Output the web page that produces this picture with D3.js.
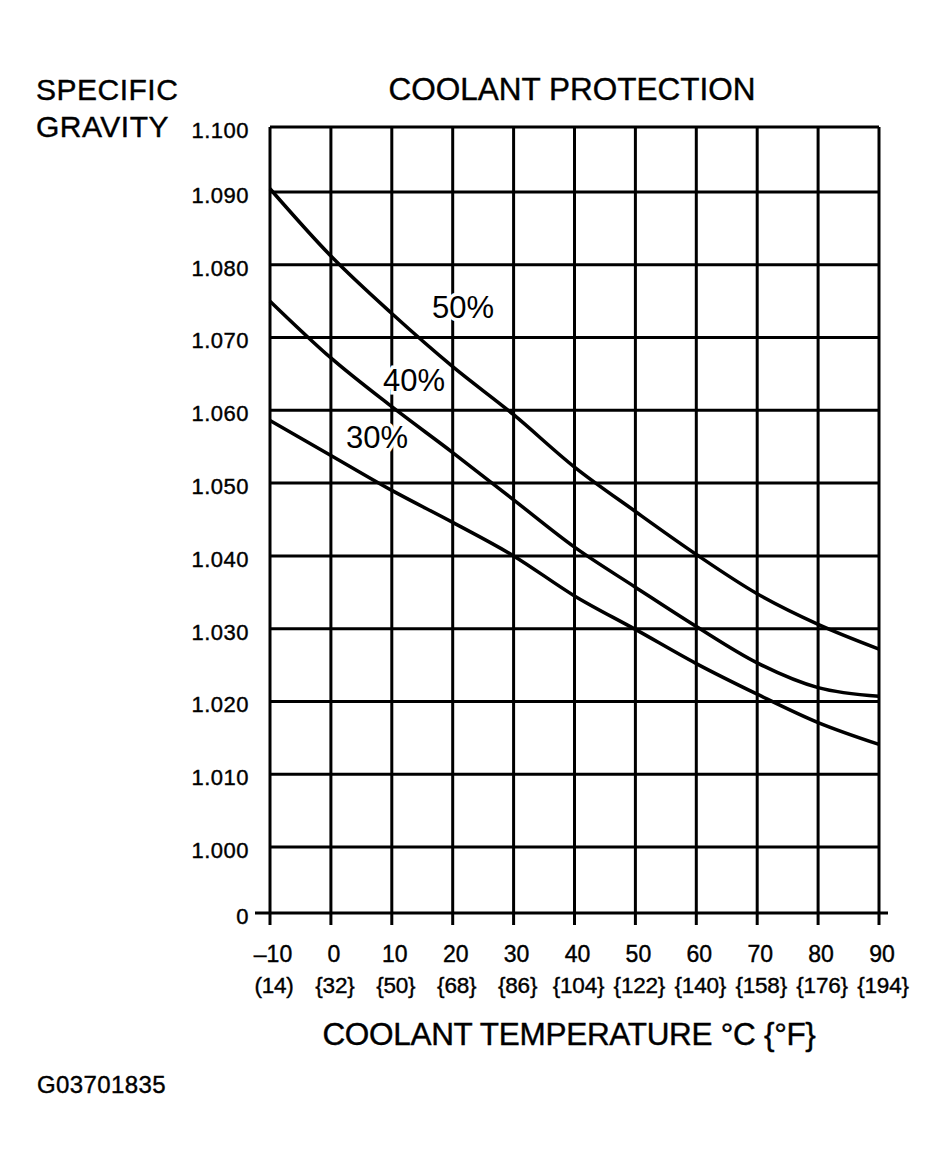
<!DOCTYPE html>
<html lang="en">
<head>
    <meta charset="utf-8" />
    <title>coolant protection</title>
    <style>
        body { margin: 0; background: #fff; }
        text { font-family: "Liberation Sans", Arial, Helvetica, sans-serif; fill: #000; }
        .ink { stroke: #000; stroke-width: 0.4px; }
    </style>
</head>
<body>
<script src="https://d3js.org/d3.v7.min.js"></script>
<div id="chart"></div>
<script>
    // coolant temperature in degrees C, and the {F} label under each one
    const tempC = [-10, 0, 10, 20, 30, 40, 50, 60, 70, 80, 90];
    const tempCLabels = ["\u201310", "0", "10", "20", "30", "40", "50", "60", "70", "80", "90"];
    const tempFLabels = ["(14)", "{32}", "{50}", "{68}", "{86}", "{104}", "{122}", "{140}", "{158}", "{176}", "{194}"];

    // specific gravity at every 10 C
    const sg50 = [1.0905, 1.0812, 1.0733, 1.0660, 1.0594, 1.0522, 1.0461, 1.0402, 1.0348, 1.0306, 1.0272];
    const sg40 = [1.0750, 1.0672, 1.0605, 1.0542, 1.0477, 1.0412, 1.0357, 1.0303, 1.0253, 1.0219, 1.0207];
    const sg30 = [1.0586, 1.0538, 1.0490, 1.0446, 1.0400, 1.0345, 1.0299, 1.0252, 1.0210, 1.0171, 1.0141];

    const yTicks = [1.100, 1.090, 1.080, 1.070, 1.060, 1.050, 1.040, 1.030, 1.020, 1.010, 1.000, 0];

    const series = [
        {name: "50%", values: sg50, lx: 463, ly: 307},
        {name: "40%", values: sg40, lx: 414, ly: 380},
        {name: "30%", values: sg30, lx: 377, ly: 437}
    ];

    const width = 950, height = 1170;

    const svg = d3.select("#chart")
        .append("svg")
        .attr("width", width)
        .attr("height", height);

    const x = d3.scaleLinear()
        .domain([-10, 90])
        .range([270, 879]);

    // the axis is broken between 0 and 1.000, and the top row is a bit shorter
    const y = d3.scaleLinear()
        .domain([0, 1.000, 1.090, 1.100])
        .range([913, 847, 192, 127]);

    const grid = svg.append("g")
        .attr("stroke", "#000")
        .attr("stroke-width", 3)
        .attr("fill", "none");

    // horizontal grid lines
    grid.selectAll("line.h")
        .data(yTicks)
        .join("line")
        .attr("class", "h")
        .attr("x1", d => d === 0 ? x(-10) - 15 : x(-10))
        .attr("x2", d => d === 0 ? x(90) + 9 : x(90))
        .attr("y1", d => y(d))
        .attr("y2", d => y(d));

    // vertical grid lines, poking below the zero line as ticks
    grid.selectAll("line.v")
        .data(tempC)
        .join("line")
        .attr("class", "v")
        .attr("x1", d => x(d))
        .attr("x2", d => x(d))
        .attr("y1", y(1.100))
        .attr("y2", y(0) + 12);

    // y tick labels, sitting a touch below their lines as in the print
    svg.append("g")
        .selectAll("text")
        .data(yTicks)
        .join("text")
        .attr("class", "ink")
        .attr("x", 249)
        .attr("y", d => y(d) + 3)
        .attr("dy", "0.36em")
        .attr("text-anchor", "end")
        .style("font-size", "22px")
        .style("letter-spacing", "0.5px")
        .text(d => d === 0 ? "0" : d3.format(".3f")(d));

    // x tick labels, C and F rows
    const xl = svg.append("g");
    xl.selectAll("text.c")
        .data(tempC)
        .join("text")
        .attr("class", "c ink")
        .attr("x", d => x(d) + 3)
        .attr("y", 962)
        .attr("text-anchor", "middle")
        .style("font-size", "23px")
        .text((d, i) => tempCLabels[i]);
    xl.selectAll("text.f")
        .data(tempC)
        .join("text")
        .attr("class", "f ink")
        .attr("x", d => x(d) + 4)
        .attr("y", 993)
        .attr("text-anchor", "middle")
        .style("font-size", "22.5px")
        .style("letter-spacing", "-0.2px")
        .text((d, i) => tempFLabels[i]);

    // the curves
    const line = d3.line()
        .x((d, i) => x(tempC[i]))
        .y(d => y(d))
        .curve(d3.curveMonotoneX);

    svg.append("g")
        .selectAll("path")
        .data(series)
        .join("path")
        .attr("d", d => line(d.values))
        .attr("fill", "none")
        .attr("stroke", "#000")
        .attr("stroke-width", 3.5);

    // curve labels sit on white so the grid breaks around them
    svg.append("g")
        .selectAll("text")
        .data(series)
        .join("text")
        .attr("x", d => d.lx)
        .attr("y", d => d.ly)
        .attr("dy", "0.36em")
        .attr("text-anchor", "middle")
        .style("font-size", "31px")
        .style("stroke", "#fff")
        .style("stroke-width", 7)
        .style("paint-order", "stroke")
        .text(d => d.name);

    // titles
    svg.append("text")
        .attr("class", "ink")
        .attr("x", 572)
        .attr("y", 100)
        .attr("text-anchor", "middle")
        .style("font-size", "31.5px")
        .text("COOLANT PROTECTION");

    svg.append("text")
        .attr("class", "ink")
        .attr("x", 36)
        .attr("y", 100)
        .style("font-size", "30px")
        .style("letter-spacing", "0.5px")
        .text("SPECIFIC");
    svg.append("text")
        .attr("class", "ink")
        .attr("x", 36)
        .attr("y", 137)
        .style("font-size", "30px")
        .style("letter-spacing", "0.5px")
        .text("GRAVITY");

    svg.append("text")
        .attr("class", "ink")
        .attr("x", 569)
        .attr("y", 1045)
        .attr("text-anchor", "middle")
        .style("font-size", "31.5px")
        .style("letter-spacing", "-0.3px")
        .text("COOLANT TEMPERATURE \u00B0C {\u00B0F}");

    svg.append("text")
        .attr("class", "ink")
        .attr("x", 37)
        .attr("y", 1093)
        .style("font-size", "24px")
        .style("letter-spacing", "0.4px")
        .text("G03701835");
</script>
</body>
</html>
